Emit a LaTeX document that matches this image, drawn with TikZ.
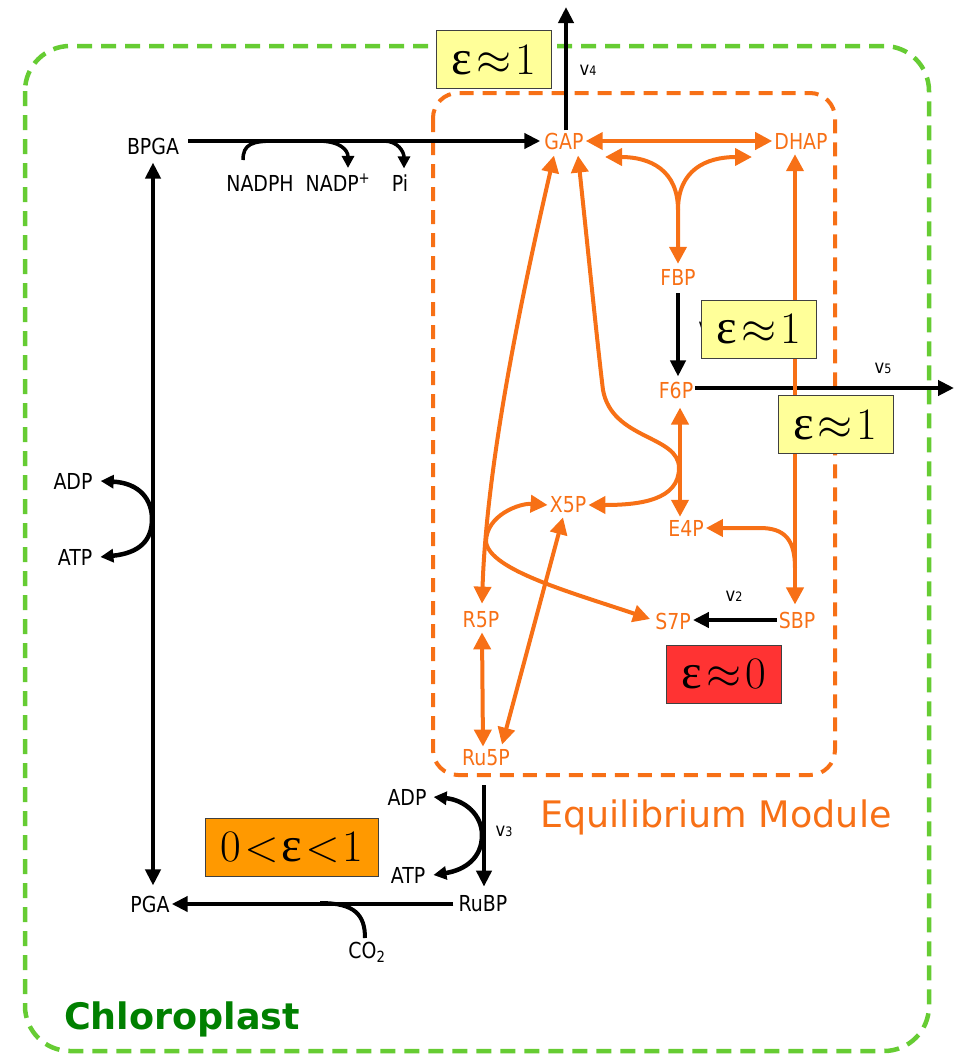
\RequirePackage{fix-cm}
\documentclass[tikz,border=0pt]{standalone}
\usepackage{fontspec}
\usetikzlibrary{arrows.meta,calc}
\newfontfamily\lab[FakeStretch=0.86]{DejaVu Sans}
\newfontfamily\dvs{DejaVu Sans}
\newfontfamily\epsf{Liberation Serif}
\definecolor{orng}{RGB}{247,112,22}
\definecolor{grn}{RGB}{102,204,51}
\definecolor{dgrn}{RGB}{0,128,0}
\definecolor{yel}{RGB}{255,255,153}
\definecolor{redb}{RGB}{255,51,51}
\definecolor{orb}{RGB}{255,153,0}
\newcommand\vlab[1]{v{\fontsize{13}{13}\selectfont #1}}
\newcommand\epsg{{\epsf\fontsize{49}{49}\selectfont ε}}
\newcommand\epsapprox[1]{\epsg\kern4pt$\approx$\kern4pt#1}
\tikzset{
  lbl/.style={inner sep=2pt, font=\lab\fontsize{22}{22}\selectfont},
  olbl/.style={lbl, text=orng},
  vl/.style={inner sep=0pt, font=\lab\fontsize{19}{19}\selectfont},
  ba/.style={line width=4pt, black, arrows={-Triangle[length=16pt,width=15pt]}},
  bab/.style={line width=4pt, black, arrows={Triangle[length=16pt,width=15pt]-Triangle[length=16pt,width=15pt]}},
  sa/.style={line width=3.5pt, black, arrows={-Triangle[length=12pt,width=12pt]}},
  cab/.style={line width=4.5pt, black, arrows={Triangle[length=13pt,width=13pt]-Triangle[length=13pt,width=13pt]}},
  oa/.style={line width=4pt, orng, arrows={-Triangle[length=17pt,width=17pt]}},
  oab/.style={line width=4pt, orng, arrows={Triangle[length=17pt,width=17pt]-Triangle[length=17pt,width=17pt]}},
  epsbox/.style={draw=black!75, line width=0.8pt, minimum height=58pt, inner sep=0pt, font=\fontsize{45}{45}\selectfont},
  gdash/.style={draw=grn, line width=4.5pt, dash pattern=on 15pt off 9pt, rounded corners=45pt},
  odash/.style={draw=orng, line width=4pt, dash pattern=on 14pt off 9pt, rounded corners=25pt}
}
\begin{document}
\begin{tikzpicture}[x=1pt,y=-1pt]
\useasboundingbox (0,0) rectangle (954,1055);
% compartments
\draw[gdash] (25,46) rectangle (929,1051);
\draw[odash] (433,93) rectangle (835,775);
\node[inner sep=0pt, text=orng, font=\dvs\fontsize{36.5}{36.5}\selectfont] (eqm) at (716,817) {Equilibrium Module};
\node[inner sep=0pt, text=dgrn, font=\dvs\bfseries\fontsize{36.5}{36.5}\selectfont] (chl) at (182,1019) {Chloroplast};
% black labels
\node[lbl] (BPGA) at (153,146) {BPGA};
\node[lbl] (NADPH) at (260,183) {NADPH};
\node[lbl] (NADP) at (338,183) {NADP\textsuperscript{+}};
\node[lbl] (Pi) at (400,183) {Pi};
\node[lbl] (PGA) at (150,904) {PGA};
\node[lbl] (RuBP) at (483,904) {RuBP};
\node[lbl] (CO2) at (367,952) {CO\textsubscript{2}};
\node[lbl] (ADPa) at (73,481) {ADP};
\node[lbl] (ATPa) at (75,557) {ATP};
\node[lbl] (ADPb) at (407,797) {ADP};
\node[lbl] (ATPb) at (408,875) {ATP};
% orange labels
\node[olbl] (GAP) at (564,141) {GAP};
\node[olbl] (DHAP) at (801,141) {DHAP};
\node[olbl] (FBP) at (678,277) {FBP};
\node[olbl] (F6P) at (676,390) {F6P};
\node[olbl] (X5P) at (568,505) {X5P};
\node[olbl] (E4P) at (686,528) {E4P};
\node[olbl] (R5P) at (481,620) {R5P};
\node[olbl] (S7P) at (673,621) {S7P};
\node[olbl] (SBP) at (797,620) {SBP};
\node[olbl] (Ru5P) at (486,758) {Ru5P};
% flux labels
\node[vl] (v4) at (588,70) {\vlab{4}};
\node[vl] (v5) at (883,368) {\vlab{5}};
\node[vl] (v2) at (734,596) {\vlab{2}};
\node[vl] (v3) at (504,831) {\vlab{3}};
\node[vl] (v1) at (707,327) {\vlab{1}};
% coordinates
\coordinate (top4) at (566,7);
\coordinate (out5) at (954,388);
\coordinate (n1) at (243,160);
\coordinate (j1) at (275,141);
\coordinate (j2) at (318,141);
\coordinate (j3) at (384,141);
\coordinate (c1) at (365,938);
\coordinate (j4) at (320,903);
\coordinate (v3top) at (484,785);
\coordinate (fk) at (678,210);
\coordinate (fkL) at (605,157);
\coordinate (fkR) at (752,157);
\coordinate (sb1) at (795,568);
\coordinate (cj) at (486,542);
% black connectors
\draw[ba] ([xshift=7pt]BPGA.east |- GAP.west) -- ([xshift=-2pt]GAP.west);
\draw[line width=3.5pt] (n1) .. controls (243,144) and (252,141) .. (j1);
\draw[sa] (j2) .. controls (340,141) and (348,150) .. ([xshift=10pt,yshift=4pt]NADP.north);
\draw[sa] (j3) .. controls (398,141) and (404,152) .. ([xshift=4pt,yshift=4pt]Pi.north);
\draw[bab] ([yshift=-6pt]BPGA.south) -- ([yshift=8pt]BPGA.south |- PGA.north);
\draw[cab] ([xshift=6pt]ADPa.east) .. controls (140,483) and (152,500) .. (152,519) .. controls (152,540) and (140,553) .. ([xshift=6pt]ATPa.east);
\draw[ba] (GAP.north -| top4) -- (top4);
\draw[ba] ([yshift=-6pt]FBP.south) -- ([yshift=3pt]FBP.south |- F6P.north);
\draw[ba] (F6P.east |- out5) -- (out5);
\draw[ba] (SBP.west) -- (S7P.east |- SBP.west);
\draw[ba] ([xshift=-3pt]RuBP.west) -- (PGA.east |- RuBP.west);
\draw[line width=4pt] (c1) .. controls (365,915) and (355,903) .. (j4);
\draw[ba] (v3top) -- ([yshift=7pt]v3top |- RuBP.north);
\draw[cab] ([xshift=5pt]ADPb.east) .. controls (465,800) and (482,815) .. (482,835) .. controls (482,858) and (465,870) .. ([xshift=6pt]ATPb.east);
% orange connectors
\draw[oab] (GAP.east) -- (DHAP.west);
\draw[oab] (fkL) .. controls (650,157) and (678,170) .. (fk) -- ([yshift=3pt]FBP.north);
\draw[oa] (fk) .. controls (678,170) and (706,157) .. (fkR);
\draw[oab] ([xshift=-6pt,yshift=-3pt]DHAP.south) -- ([xshift=-2pt,yshift=5pt]SBP.north);
\draw[oa] (sb1) .. controls (795,540) and (785,528) .. (760,528) -- (E4P.east);
\draw[oab] ([xshift=4pt,yshift=-7pt]F6P.south) -- ([xshift=-6pt,yshift=1pt]E4P.north);
\draw[oab] ([xshift=14pt,yshift=-4pt]GAP.south) .. controls (588,250) and (598,350) .. (603,390) .. controls (612,440) and (679,435) .. (679,468) .. controls (679,500) and (640,505) .. (X5P.east);
\draw[oab] ([xshift=-10pt,yshift=-4pt]GAP.south) .. controls (530,260) and (487,450) .. ([xshift=1pt,yshift=6pt]R5P.north);
\draw[oab] (X5P.west) .. controls (520,503) and (486,515) .. (cj) .. controls (490,570) and (570,592) .. ([xshift=-3pt,yshift=2pt]S7P.west);
\draw[oab] ([xshift=-5pt,yshift=-2pt]X5P.south) -- ([xshift=16pt,yshift=3pt]Ru5P.north);
\draw[oab] ([xshift=1pt,yshift=-2pt]R5P.south) -- ([xshift=-3pt,yshift=1pt]Ru5P.north);
% epsilon boxes
\node[epsbox, fill=yel, minimum width=115pt] (e1) at (494,59.5) {\epsapprox{1}};
\node[epsbox, fill=yel, minimum width=115pt] (e2) at (759,329) {\epsapprox{1}};
\node[epsbox, fill=yel, minimum width=115pt] (e3) at (835.5,424.5) {\epsapprox{1}};
\node[epsbox, fill=redb, minimum width=115pt] (e4) at (724,674) {\epsapprox{0}};
\node[epsbox, fill=orb, minimum width=173pt] (e5) at (292,847) {0\kern3pt$<$\kern3pt\epsg\kern3pt$<$\kern3pt1};
\end{tikzpicture}
\end{document}
